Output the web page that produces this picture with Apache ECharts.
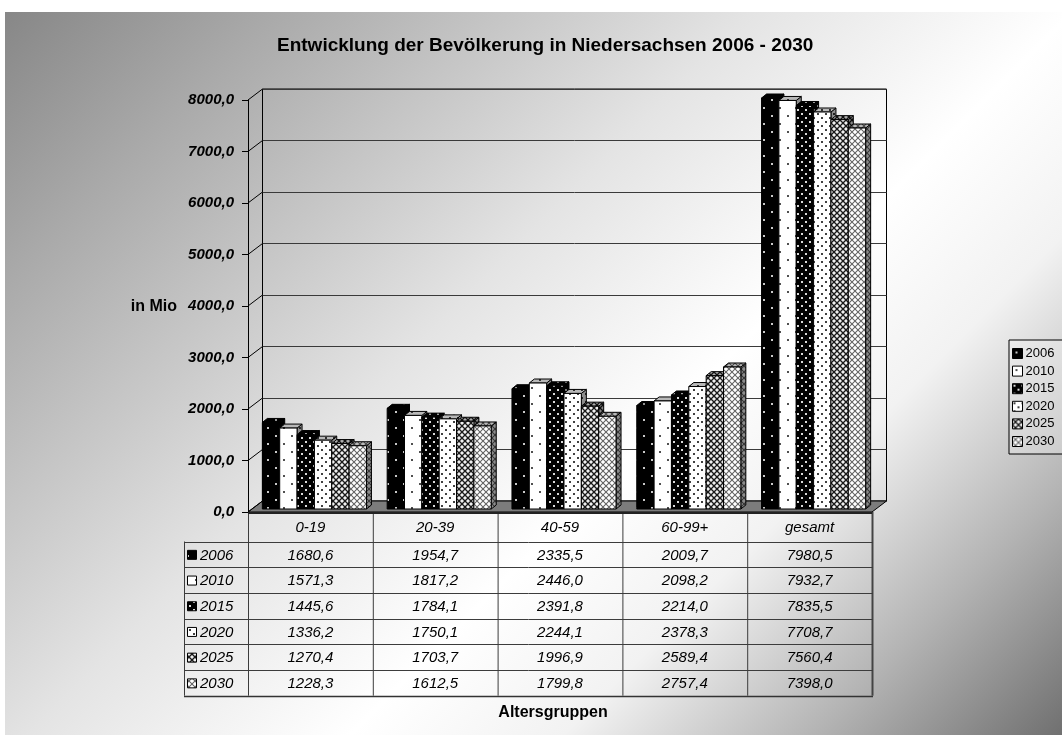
<!DOCTYPE html>
<html>
<head>
<meta charset="utf-8">
<script src="https://cdn.jsdelivr.net/npm/echarts@6/dist/echarts.min.js"></script>
<style>
html,body{margin:0;padding:0;background:#fff;}
#chart{width:1062px;height:738px;}
</style>
</head>
<body>
<div id="chart"></div>
<script>
// ---------- data ----------
const categories = ['0-19', '20-39', '40-59', '60-99+', 'gesamt'];
const years = ['2006', '2010', '2015', '2020', '2025', '2030'];
const v2006 = [1680.6, 1954.7, 2335.5, 2009.7, 7980.5];
const v2010 = [1571.3, 1817.2, 2446.0, 2098.2, 7932.7];
const v2015 = [1445.6, 1784.1, 2391.8, 2214.0, 7835.5];
const v2020 = [1336.2, 1750.1, 2244.1, 2378.3, 7708.7];
const v2025 = [1270.4, 1703.7, 1996.9, 2589.4, 7560.4];
const v2030 = [1228.3, 1612.5, 1799.8, 2757.4, 7398.0];
const valueTicks = [0, 1000, 2000, 3000, 4000, 5000, 6000, 7000, 8000];
const titleText = 'Entwicklung der Bevölkerung in Niedersachsen 2006 - 2030';
const yName = 'in Mio';
const xName = 'Altersgruppen';

const seriesValues = [v2006, v2010, v2015, v2020, v2025, v2030];

// ---------- layout / style ----------
const FONT = '"Liberation Sans", Arial, sans-serif';
const G = { left: 248, top: 100, width: 624, height: 412 };
const DEP = [14.5, -11];       // depth of the 3D box
const BAR_OFF = [4, -3];       // bar front-face offset into the box
const BAR_DEP = [5, -4];       // bar thickness
const GROUP_FRAC = 0.834;      // cluster width as fraction of band

function fmt(v) { return v.toFixed(1).replace('.', ','); }

function tile(size, bg, drawFn) {
  const c = document.createElement('canvas');
  c.width = c.height = size;
  const g = c.getContext('2d');
  g.fillStyle = bg; g.fillRect(0, 0, size, size);
  drawFn(g, size);
  return { image: c, repeat: 'repeat' };
}
function dots(col, pts, s) {
  return (g) => { g.fillStyle = col; pts.forEach(p => g.fillRect(p[0], p[1], s, s)); };
}
function cross(lineCol, lightCol) {
  return (g, n) => {
    g.fillStyle = lineCol;
    for (let i = 0; i < n; i++) { g.fillRect(i, i, 1, 1); g.fillRect(n - 1 - i, i, 1, 1); }
    g.fillStyle = lightCol;
    [[2, 0], [3, 0], [0, 2], [0, 3], [5, 2], [5, 3], [2, 5], [3, 5]].forEach(p => g.fillRect(p[0], p[1], 1, 1));
  };
}
const patterns = [
  tile(16, '#000000', dots('#c8c8c8', [[3, 3], [11, 11]], 2)),
  tile(16, '#ffffff', dots('#505050', [[3, 3], [11, 11]], 2)),
  tile(8, '#000000', dots('#d8d8d8', [[1, 1], [5, 5]], 2)),
  tile(8, '#ffffff', dots('#404040', [[1, 1], [5, 5]], 2)),
  tile(6, '#8c8c8c', cross('#1a1a1a', '#f0f0f0')),
  tile(6, '#d4d4d4', cross('#6a6a6a', '#ffffff'))
];

// ---------- 3D bar rendering ----------
function barRenderer(k) {
  return function (params, api) {
    const cat = api.value(0), val = api.value(1);
    const bw = api.size([1, 0])[0];
    const w = bw * GROUP_FRAC / years.length;
    const b = api.coord([cat, 0]);
    const t = api.coord([cat, val]);
    const x0 = b[0] - bw * GROUP_FRAC / 2 + k * w + BAR_OFF[0];
    const yb = b[1] + BAR_OFF[1];
    const yt = t[1] + BAR_OFF[1];
    const dx = BAR_DEP[0], dy = BAR_DEP[1];
    const pat = patterns[k];
    const topPts = [[x0, yt], [x0 + w, yt], [x0 + w + dx, yt + dy], [x0 + dx, yt + dy]];
    const sidePts = [[x0 + w, yt], [x0 + w + dx, yt + dy], [x0 + w + dx, yb + dy], [x0 + w, yb]];
    const ln = { stroke: '#000', lineWidth: 1 };
    return {
      type: 'group',
      children: [
        { type: 'polygon', shape: { points: sidePts }, style: { fill: pat } },
        { type: 'polygon', shape: { points: sidePts }, style: Object.assign({ fill: 'rgba(0,0,0,0.45)' }, ln) },
        { type: 'polygon', shape: { points: topPts }, style: { fill: pat } },
        { type: 'polygon', shape: { points: topPts }, style: Object.assign({ fill: 'rgba(0,0,0,0.28)' }, ln) },
        { type: 'rect', shape: { x: x0, y: yt, width: w, height: yb - yt }, style: Object.assign({ fill: pat }, ln) }
      ]
    };
  };
}

// frame: floor and depth connectors of the value axis
function frameRenderer(params, api) {
  const cs = params.coordSys;
  const y = api.coord([0, api.value(1)])[1];
  const children = [
    { type: 'line', shape: { x1: cs.x, y1: y, x2: cs.x + DEP[0], y2: y + DEP[1] }, style: { stroke: '#000', lineWidth: 1 } }
  ];
  if (params.dataIndex === 0) {
    const yb = cs.y + cs.height;
    children.unshift({
      type: 'polygon',
      shape: { points: [[cs.x, yb], [cs.x + cs.width, yb], [cs.x + cs.width + DEP[0], yb + DEP[1]], [cs.x + DEP[0], yb + DEP[1]]] },
      style: { fill: '#7c7c7c', stroke: '#000', lineWidth: 1 }
    });
    children.push({ type: 'line', shape: { x1: cs.x, y1: yb + 1, x2: cs.x + cs.width, y2: yb + 1 }, style: { stroke: '#222', lineWidth: 2 } });
  }
  return { type: 'group', children };
}

// ---------- graphic: background, table, labels ----------
const graphic = [];
graphic.push({
  type: 'rect', z: -100, silent: true,
  shape: { x: 5, y: 12, width: 1057, height: 723 },
  style: {
    fill: {
      type: 'linear', global: true, x: 5, y: 12, x2: 895, y2: 902,
      colorStops: [
        { offset: 0, color: '#878787' },
        { offset: 0.15, color: '#a9a9a9' },
        { offset: 0.42, color: '#e4e4e4' },
        { offset: 0.6, color: '#ffffff' },
        { offset: 0.72, color: '#f2f2f2' },
        { offset: 0.86, color: '#b4b4b4' },
        { offset: 1, color: '#707070' }
      ]
    }
  }
});

const colW = G.width / categories.length;
const tblTop = G.top + G.height;       // 512
const hdrH = 29.5;
const rowH = 25.7;
const keyLeft = 184;
const tblBottom = tblTop + hdrH + rowH * years.length;
const lineStyle = { stroke: '#3c3c3c', lineWidth: 1 };
// vertical lines
for (let c = 0; c <= categories.length; c++) {
  const x = G.left + c * colW + 0.5;
  graphic.push({ type: 'line', shape: { x1: x, y1: tblTop, x2: x, y2: tblBottom }, style: c === categories.length ? { stroke: '#444', lineWidth: 2 } : lineStyle });
}
graphic.push({ type: 'line', shape: { x1: keyLeft + 0.5, y1: tblTop + hdrH, x2: keyLeft + 0.5, y2: tblBottom }, style: lineStyle });
// horizontal lines
for (let r = 0; r <= years.length; r++) {
  const y = Math.round(tblTop + hdrH + r * rowH) + 0.5;
  graphic.push({ type: 'line', shape: { x1: keyLeft, y1: y, x2: G.left + G.width + 1, y2: y }, style: r === years.length ? { stroke: '#333', lineWidth: 1.5 } : lineStyle });
}
// header labels
categories.forEach((c, i) => {
  graphic.push({
    type: 'text', x: G.left + (i + 0.5) * colW, y: tblTop + hdrH / 2 + 1,
    style: { text: c, align: 'center', verticalAlign: 'middle', fill: '#000', font: 'italic 15px ' + FONT }
  });
});
// rows
years.forEach((yr, r) => {
  const cy = tblTop + hdrH + (r + 0.5) * rowH + 1;
  graphic.push({ type: 'rect', shape: { x: 187.5, y: cy - 5, width: 9, height: 9 }, style: { fill: patterns[r], stroke: '#000', lineWidth: 1 } });
  graphic.push({ type: 'text', x: 200, y: cy, style: { text: yr, align: 'left', verticalAlign: 'middle', fill: '#000', font: 'italic 15px ' + FONT } });
  seriesValues[r].forEach((v, i) => {
    graphic.push({
      type: 'text', x: G.left + (i + 0.5) * colW, y: cy,
      style: { text: fmt(v), align: 'center', verticalAlign: 'middle', fill: '#000', font: 'italic 15px ' + FONT }
    });
  });
});
graphic.push({ type: 'text', x: 177, y: 307, style: { text: yName, align: 'right', verticalAlign: 'middle', fill: '#000', font: 'bold 16px ' + FONT } });
graphic.push({ type: 'text', x: 553, y: 713, style: { text: xName, align: 'center', verticalAlign: 'middle', fill: '#000', font: 'bold 16px ' + FONT } });

// ---------- series ----------
const series = [{
  type: 'custom', name: 'frame', xAxisIndex: 0, yAxisIndex: 0, silent: true,
  renderItem: frameRenderer,
  data: valueTicks.map(v => [0, v]),
  encode: { x: 0, y: 1 }
}];
years.forEach((yr, k) => {
  series.push({
    type: 'custom', name: yr, xAxisIndex: 0, yAxisIndex: 0,
    itemStyle: { color: patterns[k], borderColor: '#000', borderWidth: 1 },
    renderItem: barRenderer(k),
    data: seriesValues[k].map((v, i) => [i, v]),
    encode: { x: 0, y: 1 }
  });
});

const chart = echarts.init(document.getElementById('chart'), null, { renderer: 'canvas' });
chart.setOption({
  animation: false,
  backgroundColor: '#ffffff',
  title: {
    text: titleText, left: 272, top: 31,
    textStyle: { fontFamily: FONT, fontSize: 19, fontWeight: 'bold', color: '#000' }
  },
  legend: {
    data: years, orient: 'vertical', left: 1009, top: 340,
    padding: [7, 14, 6, 3], itemGap: 4.6, itemWidth: 10, itemHeight: 10, icon: 'rect',
    borderColor: '#000', borderWidth: 1, backgroundColor: 'rgba(255,255,255,0.25)',
    itemStyle: { borderColor: '#000', borderWidth: 1 },
    textStyle: { fontFamily: FONT, fontSize: 13, color: '#000', lineHeight: 13, padding: [0, 0, 0, -2] }
  },
  grid: [
    { left: G.left, top: G.top, width: G.width, height: G.height, outerBoundsMode: 'none', containLabel: false },
    { left: G.left + DEP[0], top: G.top + DEP[1], width: G.width, height: G.height, outerBoundsMode: 'none', containLabel: false,
      show: true, borderColor: '#000', borderWidth: 1, backgroundColor: 'transparent' }
  ],
  xAxis: [
    { type: 'category', gridIndex: 0, data: categories, boundaryGap: true, axisLine: { show: false }, axisTick: { show: false }, axisLabel: { show: false }, splitLine: { show: false } },
    { type: 'category', gridIndex: 1, data: categories, boundaryGap: true, axisLine: { show: false }, axisTick: { show: false }, axisLabel: { show: false }, splitLine: { show: false } }
  ],
  yAxis: [
    { type: 'value', gridIndex: 0, min: 0, max: 8000, interval: 1000,
      axisLine: { show: true, lineStyle: { color: '#000', width: 1 } },
      axisTick: { show: true, length: 6, lineStyle: { color: '#000' } },
      axisLabel: { show: true, margin: 14, formatter: fmt, fontFamily: FONT, fontSize: 15, fontWeight: 'bold', fontStyle: 'italic', color: '#000' },
      splitLine: { show: false } },
    { type: 'value', gridIndex: 1, min: 0, max: 8000, interval: 1000,
      axisLine: { show: false }, axisTick: { show: false }, axisLabel: { show: false },
      splitLine: { show: true, lineStyle: { color: '#3a3a3a', width: 1 } } }
  ],
  graphic: graphic,
  series: series
});
</script>
</body>
</html>
